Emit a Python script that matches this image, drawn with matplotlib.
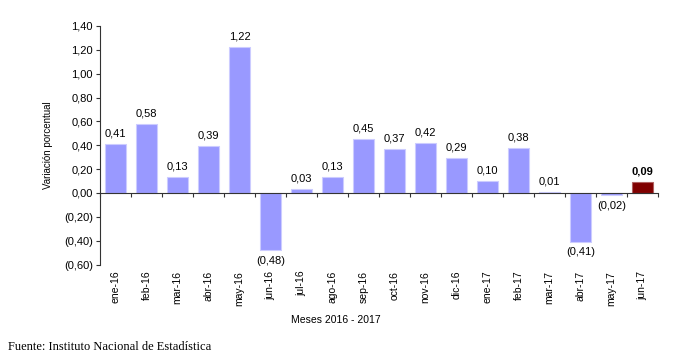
import numpy as np
import matplotlib.pyplot as plt

# datos
meses = ['ene-16', 'feb-16', 'mar-16', 'abr-16', 'may-16', 'jun-16', 'jul-16', 'ago-16',
         'sep-16', 'oct-16', 'nov-16', 'dic-16', 'ene-17', 'feb-17', 'mar-17', 'abr-17',
         'may-17', 'jun-17']
variacion = [0.41, 0.58, 0.13, 0.39, 1.22, -0.48, 0.03, 0.13,
             0.45, 0.37, 0.42, 0.29, 0.10, 0.38, 0.01, -0.41,
             -0.02, 0.09]
yticks = [-0.6, -0.4, -0.2, 0.0, 0.2, 0.4, 0.6, 0.8, 1.0, 1.2, 1.4]


def fmt(v):
    s = ('%.2f' % abs(v)).replace('.', ',')
    return '(%s)' % s if v < 0 else s


plt.rcParams['font.family'] = ['Liberation Sans', 'DejaVu Sans']

fig = plt.figure(figsize=(6.82, 3.6), dpi=100)
ax = fig.add_axes([0.1466, 0.265, 0.8184, 0.663])

x = np.arange(len(meses))
colors = ['#9999FF'] * (len(meses) - 1) + ['#800000']
edges = ['#CCCCFF'] * (len(meses) - 1) + ['#B06060']
ax.bar(x, variacion, width=0.67, color=colors, edgecolor=edges, linewidth=0.8, zorder=2)

# etiquetas de valor
for i, v in enumerate(variacion):
    bold = i == len(variacion) - 1
    if v >= 0:
        ax.annotate(fmt(v), (i, v), xytext=(0, 4), textcoords='offset points',
                    ha='center', va='bottom', fontsize=8,
                    fontweight='bold' if bold else 'normal')
    else:
        ax.annotate(fmt(v), (i, v), xytext=(0, -4), textcoords='offset points',
                    ha='center', va='top', fontsize=8)

ax.set_xlim(-0.5, len(meses) - 0.5)
ax.set_ylim(-0.6, 1.4)
ax.set_yticks(yticks)
ax.set_yticklabels([fmt(t) for t in yticks], fontsize=8)

ax.spines['top'].set_visible(False)
ax.spines['right'].set_visible(False)
ax.spines['bottom'].set_position(('data', 0))
ax.spines['left'].set_color('#333333')
ax.spines['bottom'].set_color('#333333')
ax.tick_params(axis='y', length=3, width=0.8, color='#333333', pad=2)

# tick labels at centers, tick marks at boundaries
ax.set_xticks(x)
ax.set_xticklabels(meses, rotation=90, fontsize=7.5)
ax.set_xticks(np.arange(len(meses) + 1) - 0.5, minor=True)
ax.tick_params(axis='x', which='major', length=0, pad=56)
ax.tick_params(axis='x', which='minor', length=3, width=0.8, color='#333333')

ax.set_ylabel('Variación porcentual', fontsize=7, labelpad=8)
fig.text(0.493, 0.11, 'Meses 2016 - 2017', ha='center', va='center', fontsize=7.5)
fig.text(0.012, 0.036, 'Fuente: Instituto Nacional de Estadística', ha='left', va='center',
         fontsize=9, family=['Liberation Serif', 'DejaVu Serif'])

fig.savefig('out.png', dpi=100)
